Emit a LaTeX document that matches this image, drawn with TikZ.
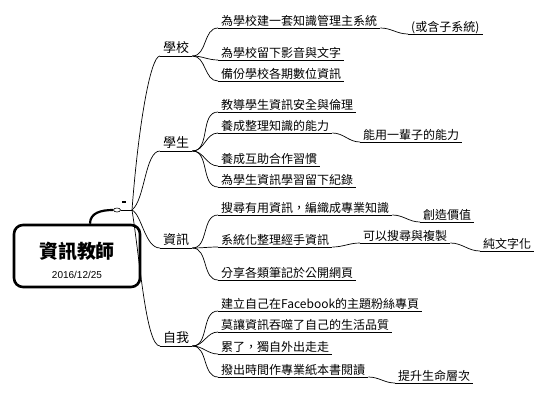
\documentclass[tikz,border=0pt]{standalone}
\usepackage{fontspec}
\usetikzlibrary{shapes.geometric}
\setmainfont{Noto Sans CJK TC}
\newfontfamily\datefont{Liberation Sans}
\begin{document}
\begin{tikzpicture}[x=1pt,y=-1pt,
  leaf/.style={anchor=south west, font=\fontsize{12}{14}\selectfont, inner xsep=3pt, inner ysep=0pt, text height=10pt, text depth=2.8pt},
  branch/.style={anchor=south west, font=\fontsize{13}{15}\selectfont, inner xsep=3pt, inner ysep=0pt, text height=11pt, text depth=3pt},
  conn/.style={draw=black, line width=0.7pt},
  uline/.style={draw=black, line width=0.9pt},
  rootbox/.style={draw=black, line width=2.6pt, rounded corners=9pt, minimum width=126pt, minimum height=62pt, inner sep=0pt},
]
\useasboundingbox (0,0) rectangle (550,400);

% root
\node[rootbox] (root) at (77,256) {};
\node[font=\fontsize{19}{21}\selectfont\bfseries, inner sep=0pt] (title) at (77,251) {資訊教師};
\node[font=\datefont\fontsize{10}{12}\selectfont, inner sep=0pt] (date) at (77,275) {2016/12/25};
\node[draw=black, fill=white, ellipse, minimum width=7pt, minimum height=4pt, inner sep=0pt, line width=0.6pt] (ov) at (117,210) {};
\coordinate (hub) at (132,210);
\draw[line width=2.2pt] ([xshift=13pt]root.north) .. controls +(0,-11) and +(-12,0) .. (ov.west);
\draw[conn] (ov.east) -- (hub);
\draw[line width=1.4pt] (122,202) -- (126,202);

% level 1
\node[branch] (t1) at (160,56) {學校};
\node[branch] (t2) at (160,151) {學生};
\node[branch] (t3) at (160,248) {資訊};
\node[branch] (t4) at (160,346) {自我};

\draw[conn] (hub) .. controls (138,130) and (150,56) .. (t1.south west);
\draw[conn] (hub) .. controls (145,200) and (145,151) .. (t2.south west);
\draw[conn] (hub) .. controls (142,215) and (145,248) .. (t3.south west);
\draw[conn] (hub) .. controls (140,260) and (146,346) .. (t4.south west);

% 學校
\node[leaf] (a1) at (218,28) {為學校建一套知識管理主系統};
\node[leaf] (a1x) at (408,34) {(或含子系統)};
\node[leaf] (a2) at (218,60) {為學校留下影音與文字};
\node[leaf] (a3) at (218,81) {備份學校各期數位資訊};
% 學生
\node[leaf] (b1) at (218,112) {教導學生資訊安全與倫理};
\node[leaf] (b2) at (218,133) {養成整理知識的能力};
\node[leaf] (b2x) at (360,142) {能用一輩子的能力};
\node[leaf] (b3) at (218,166) {養成互助合作習慣};
\node[leaf] (b4) at (218,187) {為學生資訊學習留下紀錄};
% 資訊
\node[leaf] (c1) at (218,215) {搜尋有用資訊，編織成專業知識};
\node[leaf] (c1x) at (420,222) {創造價值};
\node[leaf] (c2) at (218,247) {系統化整理經手資訊};
\node[leaf] (c2x) at (360,243) {可以搜尋與複製};
\node[leaf] (c2y) at (480,251) {純文字化};
\node[leaf] (c3) at (218,280) {分享各類筆記於公開網頁};
% 自我
\node[leaf] (d1) at (218,311) {建立自己在Facebook的主題粉絲專頁};
\node[leaf] (d2) at (218,332) {莫讓資訊吞噬了自己的生活品質};
\node[leaf] (d3) at (218,354) {累了，獨自外出走走};
\node[leaf] (d4) at (218,377) {撥出時間作專業紙本書閱讀};
\node[leaf] (d4x) at (395,383) {提升生命層次};

\foreach \n in {t1,t2,t3,t4,a1,a1x,a2,a3,b1,b2,b2x,b3,b4,c1,c1x,c2,c2x,c2y,c3,d1,d2,d3,d4,d4x}
  \draw[uline] (\n.south west) -- (\n.south east);

\foreach \p/\c in {t1/a1,t1/a2,t1/a3,a1/a1x,t2/b1,t2/b2,t2/b3,t2/b4,b2/b2x,t3/c1,t3/c2,t3/c3,c1/c1x,c2/c2x,c2x/c2y,t4/d1,t4/d2,t4/d3,t4/d4,d4/d4x}
  \draw[conn] (\p.south east) to[out=0,in=180] (\c.south west);
\end{tikzpicture}
\end{document}
